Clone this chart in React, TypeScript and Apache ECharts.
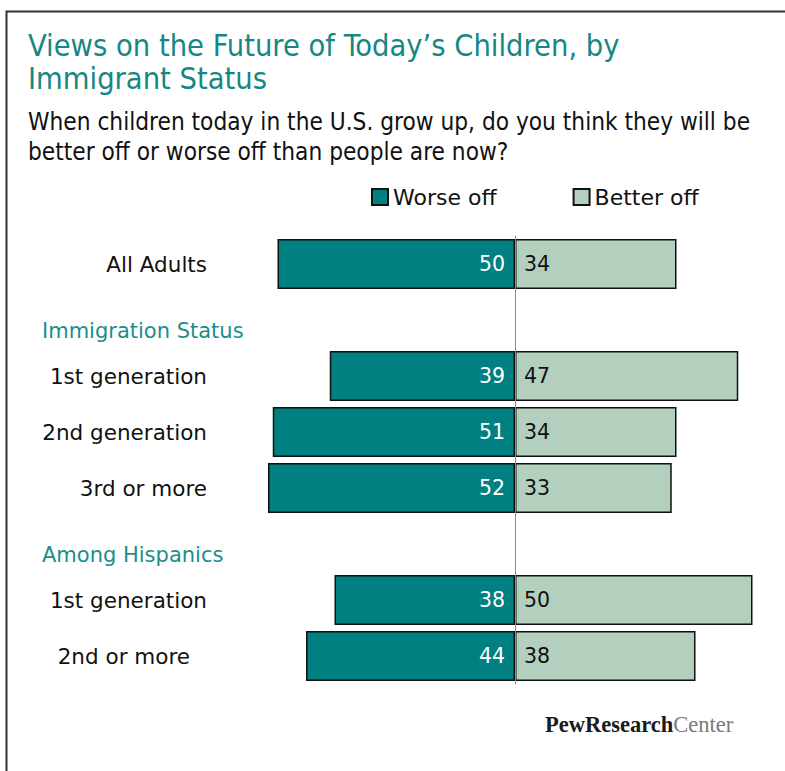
import React, { useEffect, useRef } from "react";
import * as echarts from "echarts";

const rowLabels = [
  "All Adults",
  "Immigration Status",
  "1st generation",
  "2nd generation",
  "3rd or more",
  "Among Hispanics",
  "1st generation",
  "2nd or more",
];
const rowKinds = ["row", "header", "row", "row", "row", "header", "row", "rowShort"];
const worseOff: (number | null)[] = [50, null, 39, 51, 52, null, 38, 44];
const betterOff: (number | null)[] = [34, null, 47, 34, 33, null, 50, 38];
const seriesNames = ["Worse off", "Better off"];
const titleLines = ["Views on the Future of Today\u2019s Children, by", "Immigrant Status"];
const subtitleText =
  "When children today in the U.S. grow up, do you think they will be\nbetter off or worse off than people are now?";

const TEAL = "#008080";
const LIGHT = "#b3d0be";
const SANS = "'DejaVu Sans', Verdana, sans-serif";
const NARROW = "'Liberation Sans Narrow', 'DejaVu Sans Condensed', 'Roboto Condensed', Roboto, sans-serif";

export default function App() {
  const ref = useRef<HTMLDivElement>(null);
  useEffect(() => {
    document.body.style.margin = "0";
    const chart = echarts.init(ref.current!, undefined, { renderer: "svg" });
    chart.setOption({
      animation: false,
      backgroundColor: "#ffffff",
      legend: {
        left: 366,
        top: 181,
        itemWidth: 16,
        itemHeight: 16,
        itemGap: 76,
        icon: "rect",
        data: seriesNames,
        textStyle: { fontFamily: SANS, fontSize: 22, color: "#111" },
      },
      grid: { left: 230, right: 32.5, top: 236, height: 448, outerBoundsMode: "none", containLabel: false },
      xAxis: {
        type: "value",
        min: -60,
        max: 50,
        show: false,
      },
      yAxis: {
        type: "category",
        inverse: true,
        data: rowLabels,
        z: 10,
        axisTick: { show: false },
        axisLine: { show: true, onZero: true, lineStyle: { color: "#8c8c8c", width: 1 } },
        axisLabel: {
          margin: 188,
          align: "left",
          formatter: (v: string, i: number) => {
            const k = rowKinds[i];
            if (k === "header") return `{h|${v}}`;
            if (k === "rowShort") return `{s|${v}}`;
            return `{r|${v}}`;
          },
          rich: {
            r: { width: 165, align: "right", fontFamily: SANS, fontSize: 21.5, color: "#111" },
            s: { width: 148, align: "right", fontFamily: SANS, fontSize: 21.5, color: "#111" },
            h: { align: "left", fontFamily: SANS, fontSize: 21, color: "#1a8e8c", padding: [22, 0, 0, 0] },
          },
        },
      },
      series: [
        {
          name: seriesNames[0],
          type: "bar",
          barWidth: 50,
          barGap: "-100%",
          data: worseOff.map((v) => (v == null ? "-" : -v)),
          itemStyle: { color: TEAL, borderColor: "#111", borderWidth: 1.5 },
          label: {
            show: true,
            position: "insideRight",
            distance: 10,
            formatter: (p: any) => String(Math.abs(p.value)),
            fontFamily: SANS,
            fontSize: 20.5,
            color: "#ffffff",
          },
        },
        {
          name: seriesNames[1],
          type: "bar",
          barWidth: 50,
          barGap: "-100%",
          data: betterOff.map((v) => (v == null ? "-" : v)),
          itemStyle: { color: LIGHT, borderColor: "#111", borderWidth: 1.5 },
          label: {
            show: true,
            position: "insideLeft",
            distance: 9,
            fontFamily: SANS,
            fontSize: 20.5,
            color: "#111",
          },
        },
      ],
      graphic: [
        {
          type: "rect",
          shape: { x: 6.5, y: 11.5, width: 840, height: 840 },
          style: { fill: "none", stroke: "#333", lineWidth: 2 },
          silent: true,
        },
        ...titleLines.map((t, i) => ({
          type: "text",
          x: 28,
          y: 30 + i * 33,
          style: {
            text: t,
            fontFamily: NARROW,
            fontSize: 30.5,
            fill: "#168784",
          },
        })),
        {
          type: "text",
          x: 28,
          y: 107,
          style: {
            text: subtitleText,
            fontFamily: NARROW,
            fontSize: 24.2,
            lineHeight: 30,
            fill: "#111",
          },
        },
        {
          type: "text",
          x: 545,
          y: 713,
          style: {
            text: "{a|PewResearch}{b|Center}",
            rich: {
              a: { fontFamily: "'Liberation Serif', 'DejaVu Serif', serif", fontSize: 22.5, fill: "#1a1a1a", fontWeight: "bold" },
              b: { fontFamily: "'Liberation Serif', 'DejaVu Serif', serif", fontSize: 22.5, fill: "#7a7a7a" },
            },
          },
        },
      ],
    });
    return () => chart.dispose();
  }, []);
  return <div ref={ref} style={{ width: 785, height: 771 }} />;
}
